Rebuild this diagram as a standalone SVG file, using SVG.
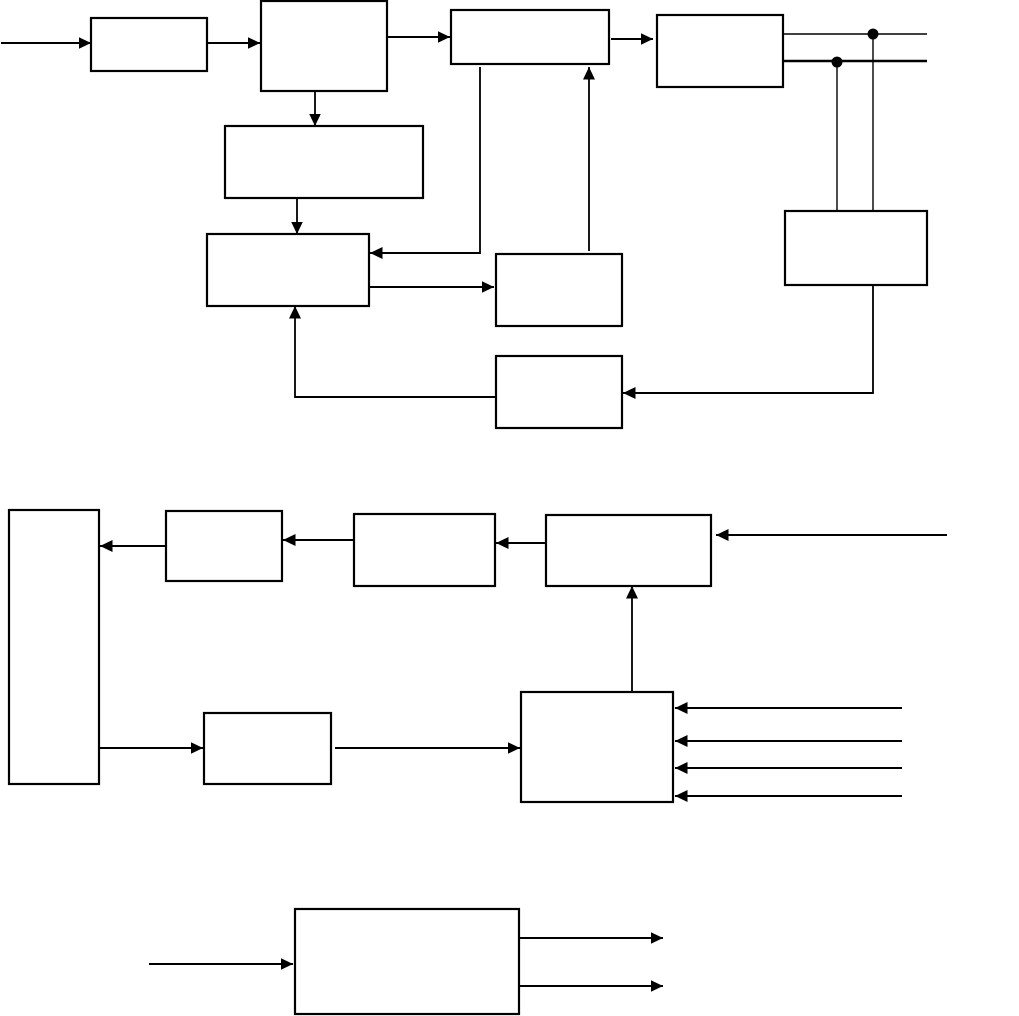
<svg xmlns="http://www.w3.org/2000/svg" width="1019" height="1016" viewBox="0 0 1019 1016">
<style>
.box{fill:#fff;stroke:#000;stroke-width:2.2}
.ln{fill:none;stroke:#000;stroke-width:1.8}
.thin{fill:none;stroke:#000;stroke-width:1.4}
.ar{marker-end:url(#ah)}
.dot{fill:#000}
</style>
<defs>
<marker id="ah" markerUnits="userSpaceOnUse" markerWidth="14" markerHeight="13" refX="12.5" refY="6" orient="auto">
<path d="M0,0 L12.5,6 L0,12 z" fill="#000"/>
</marker>
</defs>
<rect width="1019" height="1016" fill="#fff"/>
<g id="connectors">
<path class="ln ar" d="M1,43 L91,43"/>
<path class="ln ar" d="M207,43 L260,43"/>
<path class="ln ar" d="M387,37 L450,37"/>
<path class="ln ar" d="M611,39 L653,39"/>
<path class="thin" d="M783,34 L927,34"/>
<path class="ln" style="stroke-width:2.4" d="M783,61 L927,61"/>
<path class="thin" d="M837,61 L837,211"/>
<path class="thin" d="M873,34 L873,211"/>
<circle class="dot" cx="873" cy="34" r="5.5"/>
<circle class="dot" cx="837" cy="62" r="5.5"/>
<path class="ln ar" d="M315,91 L315,126"/>
<path class="ln ar" d="M297,198 L297,234"/>
<path class="ln ar" d="M480,67 L480,253 L370,253"/>
<path class="ln ar" d="M369,287 L494,287"/>
<path class="ln ar" d="M589,251 L589,67"/>
<path class="ln ar" d="M873,285 L873,393 L623,393"/>
<path class="ln ar" d="M496,397 L295,397 L295,306"/>
<path class="ln ar" d="M165,546 L100,546"/>
<path class="ln ar" d="M354,540 L283,540"/>
<path class="ln ar" d="M545,543 L496,543"/>
<path class="ln ar" d="M947,535 L716,535"/>
<path class="ln ar" d="M632,691 L632,586"/>
<path class="ln ar" d="M902,708 L675,708"/>
<path class="ln ar" d="M902,741 L675,741"/>
<path class="ln ar" d="M902,768 L675,768"/>
<path class="ln ar" d="M902,796 L675,796"/>
<path class="ln ar" d="M99,748 L203,748"/>
<path class="ln ar" d="M335,748 L520,748"/>
<path class="ln ar" d="M149,964 L293,964"/>
<path class="ln ar" d="M519,938 L663,938"/>
<path class="ln ar" d="M519,986 L663,986"/>
</g>
<g id="nodeA"><rect class="box" x="91" y="18" width="116" height="53"/></g>
<g id="nodeB"><rect class="box" x="261" y="1" width="126" height="90"/></g>
<g id="nodeC"><rect class="box" x="451" y="10" width="158" height="54"/></g>
<g id="nodeD"><rect class="box" x="657" y="15" width="126" height="72"/></g>
<g id="nodeG"><rect class="box" x="225" y="126" width="198" height="72"/></g>
<g id="nodeE"><rect class="box" x="785" y="211" width="142" height="74"/></g>
<g id="nodeF"><rect class="box" x="207" y="234" width="162" height="72"/></g>
<g id="nodeH"><rect class="box" x="496" y="254" width="126" height="72"/></g>
<g id="nodeI"><rect class="box" x="496" y="356" width="126" height="72"/></g>
<g id="nodeJ"><rect class="box" x="9" y="510" width="90" height="274"/></g>
<g id="nodeK"><rect class="box" x="166" y="511" width="116" height="70"/></g>
<g id="nodeL"><rect class="box" x="354" y="514" width="141" height="72"/></g>
<g id="nodeM"><rect class="box" x="546" y="515" width="165" height="71"/></g>
<g id="nodeN"><rect class="box" x="521" y="692" width="152" height="110"/></g>
<g id="nodeO"><rect class="box" x="204" y="713" width="127" height="71"/></g>
<g id="nodeP"><rect class="box" x="295" y="909" width="224" height="105"/></g>
</svg>
